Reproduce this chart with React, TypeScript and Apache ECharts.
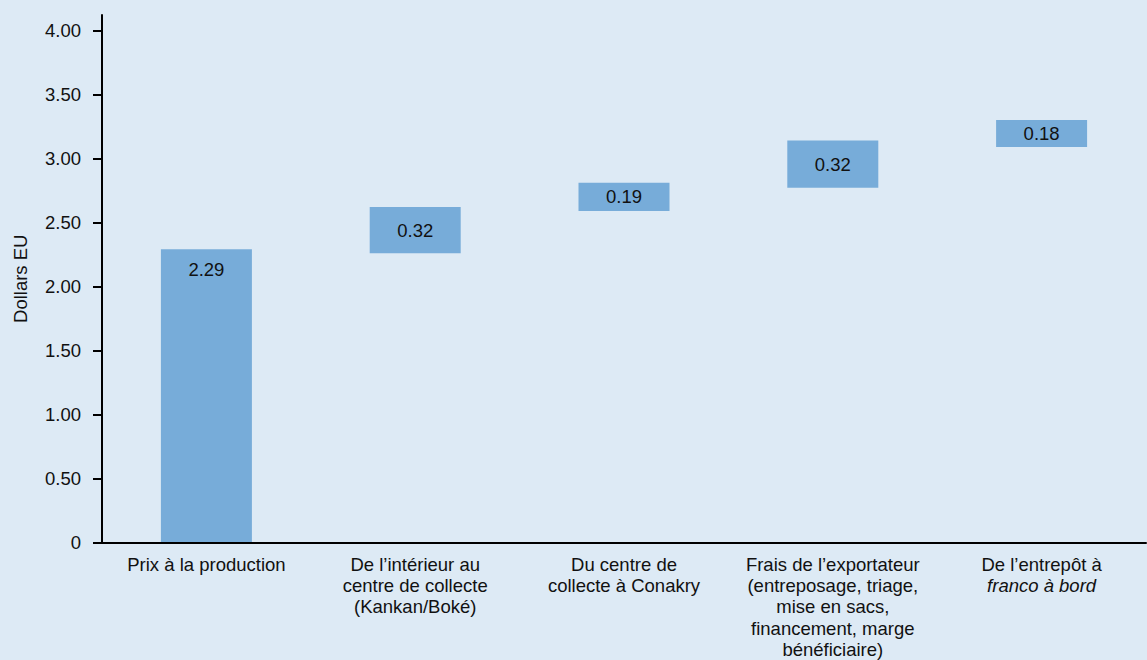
import React, { useEffect, useRef } from "react";
import * as echarts from "echarts";

const categories = [
  "Prix à la production",
  "De l’intérieur au\ncentre de collecte\n(Kankan/Boké)",
  "Du centre de\ncollecte à Conakry",
  "Frais de l’exportateur\n(entreposage, triage,\nmise en sacs,\nfinancement, marge\nbénéficiaire)",
  "De l’entrepôt à\nfranco à bord",
];
// labelled values
const valueLabels = [2.29, 0.32, 0.19, 0.32, 0.18];
// floating bar extents
const barLow = [0, 2.26, 2.59, 2.77, 3.09];
const barHigh = [2.29, 2.62, 2.81, 3.14, 3.3];
const yTicks = [0, 0.5, 1, 1.5, 2, 2.5, 3, 3.5, 4];

const FONT = "'Liberation Sans', Arial, sans-serif";
const FS = 18.5;
const TXT = "#111111";

export default function App() {
  const ref = useRef<HTMLDivElement>(null);
  useEffect(() => {
    document.body.style.margin = "0";
    const chart = echarts.init(ref.current!, undefined, { renderer: "svg" });
    const heights = barHigh.map((h, i) => +(h - barLow[i]).toFixed(4));
    chart.setOption({
      animation: false,
      backgroundColor: "#ddeaf5",
      textStyle: { fontFamily: FONT },
      grid: { left: 102, right: 1, top: 15, bottom: 114.3, containLabel: false },
      xAxis: {
        type: "category",
        data: categories,
        z: 5,
        axisLine: { lineStyle: { color: "#000", width: 2 } },
        axisTick: { length: 9, lineStyle: { color: "#000", width: 2 } },
        axisLabel: {
          interval: 0,
          margin: 11,
          color: TXT,
          fontSize: FS,
          fontFamily: FONT,
          lineHeight: 21.3,
          align: "center",
          formatter: (v: string, idx: number) => {
            if (idx === 4) {
              const parts = v.split("\n");
              return parts[0] + "\n{i|" + parts[1] + "}";
            }
            return v;
          },
          rich: {
            i: { fontStyle: "italic", fontSize: FS, fontFamily: FONT, color: TXT, lineHeight: 21.3 },
          },
        },
      },
      yAxis: {
        type: "value",
        min: 0,
        max: 4.12,
        interval: 0.5,
        z: 5,
        name: "Dollars EU",
        nameLocation: "middle",
        nameGap: 72,
        nameRotate: 90,
        nameTextStyle: { color: TXT, fontSize: FS, fontFamily: FONT },
        splitLine: { show: false },
        axisLine: { show: true, lineStyle: { color: "#000", width: 2 } },
        axisTick: { show: true, length: 9, customValues: yTicks, lineStyle: { color: "#000", width: 2 } },
        axisLabel: {
          margin: 21,
          color: TXT,
          fontSize: FS,
          fontFamily: FONT,
          customValues: yTicks,
          formatter: (v: number) => (v === 0 ? "0" : v.toFixed(2)),
        },
      },
      series: [
        {
          type: "bar",
          stack: "w",
          data: barLow,
          barWidth: 91,
          itemStyle: { color: "rgba(0,0,0,0)" },
          emphasis: { disabled: true },
          silent: true,
        },
        {
          type: "bar",
          stack: "w",
          barWidth: 91,
          data: heights.map((h, i) => ({
            value: h,
            label: {
              position: i === 0 ? "insideTop" : "inside",
              distance: i === 0 ? 11 : 5,
            },
          })),
          itemStyle: { color: "#77acd9" },
          label: {
            show: true,
            color: TXT,
            fontSize: FS,
            fontFamily: FONT,
            formatter: (p: any) => valueLabels[p.dataIndex].toFixed(2),
          },
        },
      ],
    });
    return () => chart.dispose();
  }, []);
  return <div ref={ref} style={{ width: 1147, height: 660 }} />;
}
